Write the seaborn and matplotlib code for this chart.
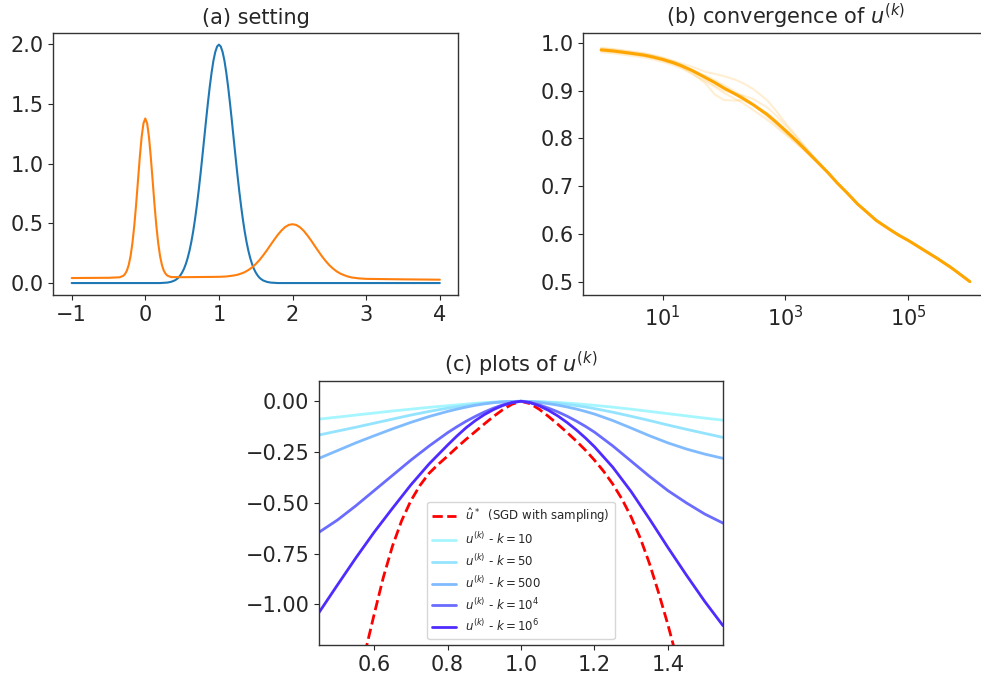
import numpy as np
import matplotlib
matplotlib.use("Agg")
import matplotlib.pyplot as plt
import seaborn as sns
from matplotlib.ticker import NullLocator

# (a) setting: two densities
x_blue = [-1.0, 0.2, 0.3, 0.35, 0.4, 0.425, 0.45, 0.475, 0.5, 0.525, 0.55, 0.575, 0.6, 0.625, 0.65, 0.675,
          0.7, 0.725, 0.75, 0.775, 0.8, 0.825, 0.85, 0.875, 0.9, 0.925, 0.95, 0.975, 1.0,
          1.025, 1.05, 1.075, 1.1, 1.125, 1.15, 1.175, 1.2, 1.225, 1.25, 1.275, 1.3, 1.325,
          1.35, 1.375, 1.4, 1.425, 1.45, 1.475, 1.5, 1.525, 1.55, 1.575, 1.6, 1.65, 1.7, 1.8, 4.0]
y_blue = [0.0, 0.0, 0.004, 0.010, 0.022, 0.032, 0.045, 0.064, 0.088, 0.119, 0.159, 0.209, 0.270, 0.344, 0.431, 0.533,
          0.648, 0.775, 0.913, 1.060, 1.210, 1.361, 1.506, 1.641, 1.760, 1.860, 1.933, 1.979, 1.995,
          1.979, 1.933, 1.860, 1.760, 1.641, 1.506, 1.361, 1.210, 1.060, 0.913, 0.775, 0.648, 0.533,
          0.431, 0.344, 0.270, 0.209, 0.159, 0.119, 0.088, 0.064, 0.045, 0.032, 0.022, 0.010, 0.004, 0.0, 0.0]

x_orange = [-1.0, -0.5, -0.35, -0.3, -0.275, -0.25, -0.225, -0.2, -0.175, -0.15, -0.125, -0.1, -0.075, -0.05,
            -0.025, 0.0, 0.025, 0.05, 0.075, 0.1, 0.125, 0.15, 0.175, 0.2, 0.225, 0.25, 0.275, 0.3, 0.35,
            0.5, 1.0, 1.1, 1.2, 1.25, 1.3, 1.35, 1.4, 1.45, 1.5, 1.55, 1.6, 1.65, 1.7, 1.75, 1.8, 1.85,
            1.9, 1.95, 2.0, 2.05, 2.1, 2.15, 2.2, 2.25, 2.3, 2.35, 2.4, 2.45, 2.5, 2.55, 2.6, 2.65,
            2.7, 2.75, 2.8, 2.9, 3.0, 3.5, 4.0]
y_orange = [0.042, 0.044, 0.048, 0.060, 0.076, 0.104, 0.152, 0.226, 0.334, 0.478, 0.655, 0.854, 1.051, 1.221,
            1.336, 1.377, 1.336, 1.221, 1.051, 0.854, 0.656, 0.479, 0.335, 0.227, 0.153, 0.105, 0.078, 0.062, 0.050,
            0.049, 0.052, 0.055, 0.063, 0.069, 0.079, 0.091, 0.109, 0.131, 0.159, 0.192, 0.231, 0.273, 0.318, 0.362, 0.404, 0.440,
            0.469, 0.487, 0.492, 0.486, 0.467, 0.438, 0.400, 0.358, 0.312, 0.267, 0.223, 0.184, 0.149, 0.121, 0.097, 0.079,
            0.066, 0.055, 0.047, 0.039, 0.035, 0.031, 0.028]

# (b) convergence
k_iter = [1, 1.5, 2, 3, 5, 7, 10, 15, 20, 30, 50, 70, 100, 150, 200, 300, 500, 700, 1000,
          1500, 2000, 3000, 5000, 7000, 1e4, 1.5e4, 2e4, 3e4, 5e4, 7e4, 1e5, 1.5e5, 2e5, 3e5, 5e5, 7e5, 1e6]
u_mean = [0.985, 0.983, 0.981, 0.978, 0.974, 0.970, 0.965, 0.958, 0.952, 0.942, 0.927, 0.917, 0.905,
          0.893, 0.884, 0.870, 0.850, 0.834, 0.816, 0.795, 0.779, 0.756, 0.727, 0.706, 0.686, 0.662,
          0.648, 0.628, 0.609, 0.597, 0.586, 0.572, 0.562, 0.548, 0.529, 0.515, 0.500]
u_tail = [0.727, 0.706, 0.686, 0.662, 0.648, 0.628, 0.609, 0.597, 0.586, 0.572, 0.562, 0.548, 0.529, 0.515, 0.500]
u_runs = [
    [0.989, 0.987, 0.985, 0.982, 0.978, 0.974, 0.969, 0.962, 0.957, 0.950, 0.939, 0.935, 0.930,
     0.923, 0.916, 0.903, 0.880, 0.858, 0.832, 0.805, 0.785, 0.759] + u_tail,
    [0.983, 0.981, 0.979, 0.976, 0.972, 0.968, 0.963, 0.956, 0.949, 0.937, 0.915, 0.892, 0.880,
     0.879, 0.880, 0.870, 0.853, 0.838, 0.819, 0.796, 0.779, 0.756] + u_tail,
    [0.980, 0.978, 0.976, 0.973, 0.969, 0.965, 0.960, 0.953, 0.947, 0.935, 0.919, 0.908, 0.895,
     0.883, 0.874, 0.859, 0.839, 0.824, 0.808, 0.789, 0.775, 0.754] + u_tail,
    [0.988, 0.986, 0.984, 0.981, 0.977, 0.973, 0.968, 0.961, 0.954, 0.942, 0.923, 0.911, 0.900,
     0.893, 0.890, 0.882, 0.865, 0.848, 0.827, 0.802, 0.784, 0.758] + u_tail,
    [0.986, 0.984, 0.982, 0.979, 0.975, 0.971, 0.966, 0.960, 0.954, 0.944, 0.931, 0.922, 0.911,
     0.898, 0.888, 0.870, 0.846, 0.829, 0.811, 0.791, 0.776, 0.755] + u_tail,
]

# (c) plots of u^(k)
x_grid = [0.45, 0.5, 0.55, 0.6, 0.65, 0.7, 0.75, 0.8, 0.825, 0.85, 0.875, 0.9, 0.925, 0.95, 0.975, 1.0,
          1.025, 1.05, 1.075, 1.1, 1.125, 1.15, 1.175, 1.2, 1.25, 1.3, 1.35, 1.4, 1.45, 1.5, 1.55]
u_k10 = [-0.088, -0.078, -0.068, -0.058, -0.048, -0.039, -0.030, -0.022, -0.018, -0.014, -0.010, -0.007, -0.004, -0.002, -0.001, 0.0,
         -0.001, -0.002, -0.004, -0.006, -0.009, -0.012, -0.016, -0.020, -0.029, -0.039, -0.050, -0.061, -0.072, -0.083, -0.093]
u_k50 = [-0.166, -0.147, -0.128, -0.108, -0.088, -0.068, -0.050, -0.034, -0.027, -0.021, -0.015, -0.010, -0.006, -0.003, -0.001, 0.0,
         -0.001, -0.003, -0.006, -0.010, -0.015, -0.021, -0.028, -0.036, -0.054, -0.074, -0.095, -0.117, -0.138, -0.158, -0.178]
u_k500 = [-0.281, -0.243, -0.205, -0.170, -0.136, -0.104, -0.075, -0.050, -0.039, -0.029, -0.020, -0.013, -0.007, -0.003, -0.001, 0.0,
          -0.002, -0.006, -0.012, -0.019, -0.028, -0.038, -0.050, -0.063, -0.095, -0.132, -0.170, -0.205, -0.235, -0.260, -0.281]
u_k1e4 = [-0.645, -0.585, -0.515, -0.440, -0.365, -0.290, -0.220, -0.155, -0.126, -0.099, -0.075, -0.053, -0.034, -0.018, -0.006, 0.0,
          -0.006, -0.018, -0.034, -0.052, -0.073, -0.097, -0.123, -0.152, -0.220, -0.295, -0.370, -0.440, -0.500, -0.555, -0.600]
u_k1e6 = [-1.040, -0.905, -0.772, -0.645, -0.527, -0.412, -0.308, -0.216, -0.172, -0.131, -0.096, -0.066, -0.041, -0.021, -0.007, 0.0,
          -0.007, -0.023, -0.045, -0.072, -0.104, -0.140, -0.180, -0.224, -0.325, -0.445, -0.580, -0.720, -0.855, -0.985, -1.105]
x_sgd = [0.575, 0.6, 0.625, 0.65, 0.675, 0.7, 0.725, 0.75, 0.775, 0.8, 0.825, 0.85, 0.875, 0.9, 0.925, 0.95, 0.975, 1.0,
         1.025, 1.05, 1.075, 1.1, 1.125, 1.15, 1.175, 1.2, 1.225, 1.25, 1.275, 1.3, 1.325, 1.35, 1.375, 1.4, 1.425]
u_sgd = [-1.24, -1.05, -0.868, -0.713, -0.588, -0.490, -0.414, -0.354, -0.310, -0.270, -0.228, -0.188, -0.150, -0.112,
         -0.075, -0.042, -0.015, 0.0,
         -0.012, -0.040, -0.075, -0.113, -0.153, -0.195, -0.240, -0.290, -0.345, -0.408, -0.482, -0.570, -0.675,
         -0.800, -0.945, -1.100, -1.270]

k_labels = ["10", "50", "500", "10^4", "10^6"]
k_colors = ["#a6f6ff", "#94e4ff", "#80bbff", "#6a6cff", "#4f2bff"]

sns.set_theme(style="ticks", rc={
    "xtick.major.size": 3.5, "ytick.major.size": 3.5,
    "xtick.major.width": 0.8, "ytick.major.width": 0.8,
    "axes.linewidth": 1.0, "axes.edgecolor": "#333333",
})
plt.rcParams["font.family"] = ["DejaVu Sans"]

fig = plt.figure(figsize=(9.81, 6.77), dpi=100)
ax_a = fig.add_axes([0.0543, 0.5643, 0.4128, 0.3874])
ax_b = fig.add_axes([0.5946, 0.5643, 0.4128, 0.3874])
ax_c = fig.add_axes([0.3252, 0.0473, 0.4118, 0.3900])

# panel a
sns.lineplot(x=x_blue, y=y_blue, ax=ax_a, color="#1f77b4", lw=1.5)
sns.lineplot(x=x_orange, y=y_orange, ax=ax_a, color="#ff7f0e", lw=1.5)
ax_a.set_xticks([-1, 0, 1, 2, 3, 4])
ax_a.set_yticks([0.0, 0.5, 1.0, 1.5, 2.0])
ax_a.set_title("(a) setting", fontsize=15)

# panel b
ax_b.set_xscale("log")
for run in u_runs:
    sns.lineplot(x=k_iter, y=run, ax=ax_b, color="orange", lw=1.5, alpha=0.18)
sns.lineplot(x=k_iter, y=u_mean, ax=ax_b, color="orange", lw=2.2)
ax_b.set_xlim(10 ** -0.29, 10 ** 6.3)
ax_b.set_ylim(0.472, 1.021)
ax_b.set_xticks([10, 1000, 1e5])
ax_b.xaxis.set_minor_locator(NullLocator())
ax_b.set_yticks([0.5, 0.6, 0.7, 0.8, 0.9, 1.0])
ax_b.set_title(r"(b) convergence of $u^{(k)}$", fontsize=15)

# panel c
sns.lineplot(x=x_sgd, y=u_sgd, ax=ax_c, color="red", lw=2, ls="--",
             label=r"$\hat{u}^*$  (SGD with sampling)")
for vals, lab, col in zip([u_k10, u_k50, u_k500, u_k1e4, u_k1e6], k_labels, k_colors):
    sns.lineplot(x=x_grid, y=vals, ax=ax_c, color=col, lw=2,
                 label=r"$u^{(k)}$ - $k=" + lab + "$")
ax_c.set_xlim(0.45, 1.55)
ax_c.set_ylim(-1.2, 0.1)
ax_c.set_xticks([0.6, 0.8, 1.0, 1.2, 1.4])
ax_c.set_yticks([-1.0, -0.75, -0.5, -0.25, 0.0])
ax_c.set_title(r"(c) plots of $u^{(k)}$", fontsize=15)
ax_c.legend(loc="lower center", fontsize=8.5)

for ax in (ax_a, ax_b, ax_c):
    ax.tick_params(labelsize=15)
    ax.set_xlabel("")
    ax.set_ylabel("")

fig.savefig("out.png", dpi=100)
